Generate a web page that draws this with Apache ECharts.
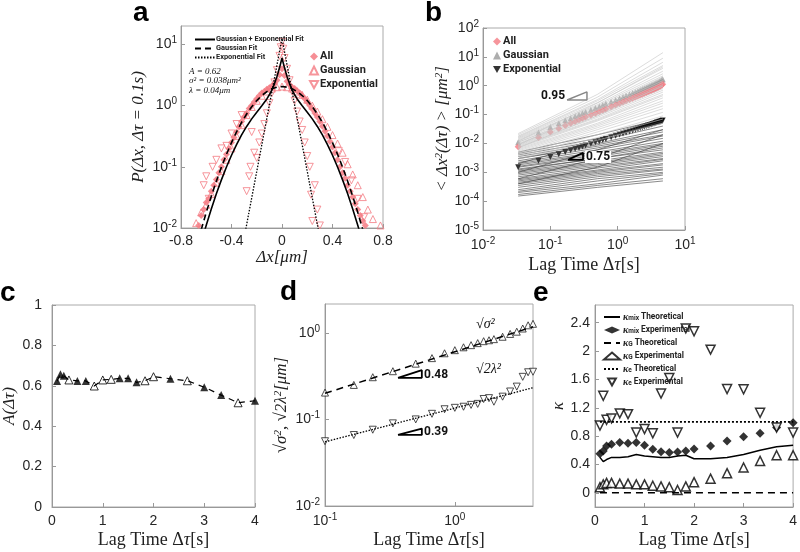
<!DOCTYPE html>
<html><head><meta charset="utf-8">
<script src="https://cdn.jsdelivr.net/npm/echarts@6/dist/echarts.min.js"></script>
<style>html,body{margin:0;padding:0;background:#fff}#c{width:800px;height:552px}</style>
</head><body><div id="c"></div>
<script>
// ---------------- Panel a ----------------
const aGaussFitX = [-0.64,-0.60,-0.56,-0.52,-0.48,-0.44,-0.40,-0.36,-0.32,-0.28,-0.24,-0.20,-0.16,-0.12,-0.08,-0.04,0,0.04,0.08,0.12,0.16,0.20,0.24,0.28,0.32,0.36,0.40,0.44,0.48,0.52,0.56,0.60,0.64];
const aGaussFit = [0.00935,0.0180,0.0330,0.0583,0.0988,0.160,0.249,0.372,0.532,0.730,0.960,1.209,1.462,1.694,1.882,2.004,2.047,2.004,1.882,1.694,1.462,1.209,0.960,0.730,0.532,0.372,0.249,0.160,0.0988,0.0583,0.0330,0.0180,0.00935];
const aMixFitX = [-0.64,-0.60,-0.56,-0.52,-0.48,-0.44,-0.40,-0.36,-0.32,-0.28,-0.24,-0.20,-0.16,-0.12,-0.10,-0.08,-0.06,-0.04,-0.03,-0.02,-0.01,0,0.01,0.02,0.03,0.04,0.06,0.08,0.10,0.12,0.16,0.20,0.24,0.28,0.32,0.36,0.40,0.44,0.48,0.52,0.56,0.60,0.64];
const aMixFit = [0.0058,0.0111,0.0205,0.0362,0.0612,0.0993,0.1546,0.2308,0.3314,0.4566,0.6067,0.7816,0.9934,1.287,1.503,1.810,2.27,2.990,3.50,4.143,4.97,6.019,4.97,4.143,3.50,2.990,2.27,1.810,1.503,1.287,0.9934,0.7816,0.6067,0.4566,0.3314,0.2308,0.1546,0.0993,0.0612,0.0362,0.0205,0.0111,0.0058];
const aExpFitX = [-0.30,-0.28,-0.24,-0.20,-0.16,-0.12,-0.08,-0.06,-0.04,-0.02,-0.01,0,0.01,0.02,0.04,0.06,0.08,0.12,0.16,0.20,0.24,0.28,0.30];
const aExpFit = [0.00691,0.0114,0.0310,0.0842,0.229,0.622,1.692,2.789,4.599,7.58,9.735,12.5,9.735,7.58,4.599,2.789,1.692,0.622,0.229,0.0842,0.0310,0.0114,0.00691];
const aAllX = [-0.66,-0.64,-0.62,-0.60,-0.58,-0.56,-0.54,-0.52,-0.50,-0.48,-0.46,-0.44,-0.42,-0.40,-0.38,-0.36,-0.34,-0.32,-0.30,-0.28,-0.26,-0.24,-0.22,-0.20,-0.18,-0.16,-0.14,-0.12,-0.10,-0.08,-0.06,-0.04,-0.02,0,0.02,0.04,0.06,0.08,0.10,0.12,0.14,0.16,0.18,0.20,0.22,0.24,0.26,0.28,0.30,0.32,0.34,0.36,0.38,0.40,0.42,0.44,0.46,0.48,0.50,0.52,0.54,0.56,0.58,0.60,0.62,0.64,0.66];
const aAll = [0.011,0.016,0.02,0.026,0.03,0.04,0.05,0.062,0.08,0.1,0.13,0.16,0.2,0.25,0.3,0.37,0.45,0.55,0.65,0.75,0.9,1.0,1.15,1.3,1.45,1.6,1.7,1.85,1.95,2.1,2.3,2.6,3.2,4.0,3.1,2.5,2.2,2.0,1.9,1.75,1.6,1.45,1.3,1.15,1.0,0.88,0.76,0.65,0.55,0.46,0.38,0.32,0.26,0.21,0.17,0.13,0.1,0.08,0.065,0.05,0.04,0.032,0.025,0.02,0.016,0.013,0.011];
const aGaussX = [-0.68,-0.64,-0.60,-0.56,-0.52,-0.48,-0.44,-0.40,-0.36,-0.32,-0.28,-0.24,-0.20,-0.16,-0.12,-0.08,-0.04,0,0.04,0.08,0.12,0.16,0.20,0.24,0.28,0.32,0.36,0.40,0.44,0.48,0.52,0.56,0.60,0.64,0.68,0.72,0.78];
const aGauss = [0.012,0.018,0.024,0.036,0.055,0.085,0.13,0.2,0.32,0.48,0.7,0.95,1.2,1.45,1.7,1.9,2.0,2.05,2.0,1.9,1.7,1.5,1.25,1.0,0.8,0.6,0.45,0.33,0.24,0.17,0.11,0.075,0.05,0.032,0.02,0.014,0.011];
const aExpX = [-0.62,-0.60,-0.58,-0.55,-0.52,-0.48,-0.44,-0.40,-0.36,-0.32,-0.28,-0.26,-0.25,-0.24,-0.22,-0.20,-0.18,-0.16,-0.14,-0.12,-0.10,-0.08,-0.06,-0.04,-0.02,-0.01,0,0.01,0.02,0.04,0.06,0.08,0.10,0.12,0.14,0.16,0.18,0.20,0.22,0.23,0.24,0.26,0.28,0.30,0.45,0.50,0.55,0.60,0.65];
const aExp = [0.05,0.07,0.03,0.1,0.13,0.2,0.22,0.35,0.5,0.7,0.04,0.07,0.1,0.37,0.17,0.14,0.25,0.35,0.5,0.75,1.1,1.6,2.4,3.8,6.5,9,11,8.5,6,4,2.6,1.7,1.2,0.8,0.55,0.4,0.25,0.15,0.1,0.035,0.013,0.05,0.02,0.011,0.18,0.12,0.06,0.03,0.015];

// ---------------- Panel b ----------------
const bTau = [0.0333,0.0667,0.1,0.1333,0.1667,0.2,0.2333,0.2667,0.3,0.3333,0.4,0.4667,0.5333,0.6,0.6667,0.8,0.9333,1.0667,1.2,1.3333,1.5,1.6667,1.8333,2.0,2.1667,2.3333,2.5,2.6667,2.8333,3.0,3.1667,3.3333,3.5,3.6667,3.8333,4.0,4.1667,4.3333,4.5,4.6667];
const bAll = [0.0076,0.016,0.025,0.033,0.042,0.05,0.058,0.066,0.074,0.082,0.097,0.112,0.127,0.142,0.157,0.186,0.215,0.244,0.272,0.3,0.335,0.37,0.405,0.44,0.475,0.51,0.545,0.58,0.615,0.65,0.685,0.72,0.76,0.8,0.84,0.88,0.93,0.98,1.05,1.12];
const bGauss = [0.011,0.024,0.037,0.05,0.063,0.075,0.087,0.099,0.111,0.123,0.146,0.168,0.19,0.213,0.235,0.279,0.322,0.366,0.408,0.45,0.5,0.555,0.61,0.66,0.71,0.765,0.82,0.87,0.92,0.975,1.03,1.08,1.14,1.2,1.26,1.32,1.4,1.47,1.57,1.68];
const bExp = [0.0015,0.0025,0.0034,0.0042,0.005,0.0058,0.0065,0.0071,0.0078,0.0084,0.0097,0.0109,0.012,0.0131,0.0142,0.0163,0.0183,0.0202,0.022,0.0239,0.0261,0.0282,0.0303,0.0323,0.0343,0.0363,0.0382,0.0401,0.042,0.0438,0.0456,0.0474,0.0492,0.051,0.0527,0.0544,0.056,0.0577,0.0594,0.062];
const bLineTau = [0.0333,0.5,4.7];
const bGaussLines = [[0.022,0.5,14],[0.02,0.4,9],[0.018,0.33,6.5],[0.017,0.3,5],[0.016,0.26,4],[0.015,0.22,3.2],[0.014,0.2,2.6],[0.013,0.18,2.2],[0.012,0.16,1.8],[0.011,0.14,1.5],[0.011,0.12,1.3],[0.01,0.11,1.1],[0.0095,0.1,0.95],[0.009,0.09,0.8],[0.0085,0.08,0.7],[0.008,0.07,0.6],[0.0075,0.065,0.5],[0.007,0.06,0.45],[0.0065,0.05,0.38],[0.006,0.045,0.3],[0.0055,0.04,0.25],[0.005,0.035,0.2],[0.0045,0.03,0.16],[0.004,0.025,0.12],[0.0035,0.02,0.09],[0.003,0.016,0.07],[0.0028,0.013,0.05],[0.012,0.25,4.5],[0.009,0.15,2.0],[0.007,0.09,1.0]];
const bExpLines = [[0.005,0.02,0.07],[0.0045,0.015,0.05],[0.004,0.012,0.04],[0.0035,0.01,0.03],[0.003,0.009,0.025],[0.003,0.008,0.02],[0.0025,0.007,0.018],[0.0022,0.006,0.015],[0.002,0.005,0.012],[0.0018,0.0045,0.01],[0.0016,0.004,0.009],[0.0015,0.0035,0.008],[0.0013,0.003,0.007],[0.0012,0.003,0.006],[0.0011,0.0025,0.005],[0.001,0.0022,0.0045],[0.0009,0.002,0.004],[0.0008,0.0018,0.0035],[0.0007,0.0016,0.003],[0.0006,0.0014,0.0028],[0.00055,0.0012,0.0025],[0.0005,0.0011,0.002],[0.00045,0.001,0.0018],[0.0004,0.0009,0.0015],[0.00035,0.0008,0.0013],[0.0003,0.0007,0.0012],[0.00025,0.0006,0.001],[0.00022,0.0005,0.0009],[0.0002,0.0004,0.0008],[0.00017,0.00035,0.0006],[0.00015,0.0003,0.0005],[0.002,0.012,0.06],[0.001,0.006,0.03],[0.0006,0.003,0.02],[0.0004,0.0015,0.01]];
const bSlope95 = [[0.177,0.32],[0.35,0.32],[0.35,0.61],[0.177,0.32]];
const bSlope75 = [[0.183,0.00271],[0.306,0.00271],[0.306,0.00473],[0.183,0.00271]];

// ---------------- Panel c, d, e ----------------
const lagTau = [0.1,0.1667,0.2333,0.3333,0.5,0.6667,0.8333,1.0,1.1667,1.3333,1.5,1.6667,1.8333,2.0,2.3333,2.6667,3.0,3.3333,3.6667,4.0];
const cA = [0.624,0.657,0.650,0.629,0.624,0.624,0.599,0.629,0.632,0.637,0.637,0.617,0.625,0.645,0.635,0.625,0.593,0.554,0.516,0.526];
const cFilled = [1,1,1,0,1,1,0,0,0,1,1,1,0,0,1,0,1,1,0,1];
const dSigma = [0.204,0.25,0.307,0.36,0.44,0.51,0.58,0.63,0.68,0.72,0.76,0.8,0.82,0.845,0.9,0.97,1.03,1.12,1.22,1.27];
const dLambda = [0.056,0.066,0.076,0.09,0.1,0.116,0.131,0.136,0.14,0.147,0.151,0.172,0.176,0.16,0.183,0.21,0.239,0.31,0.35,0.355];
const dFitTau = [0.1,4.0];
const dSigmaFit = [0.2,1.175];
const dLambdaFit = [0.055,0.232];
const dSlope48 = [[0.365,0.302],[0.557,0.302],[0.557,0.370],[0.365,0.302]];
const dSlope39 = [[0.365,0.0662],[0.557,0.0662],[0.557,0.0784],[0.365,0.0662]];
const eKmixTheo = [0.5,0.44,0.47,0.5,0.5,0.51,0.54,0.52,0.51,0.5,0.5,0.52,0.53,0.48,0.48,0.5,0.54,0.6,0.65,0.67];
const eKmixExp = [0.55,0.59,0.66,0.685,0.71,0.70,0.71,0.67,0.615,0.58,0.57,0.575,0.59,0.62,0.66,0.73,0.79,0.84,0.92,0.99];
const eKGExp = [0.08,0.12,0.14,0.14,0.13,0.13,0.12,0.12,0.1,0.09,0.08,0.04,0.09,0.15,0.2,0.277,0.357,0.45,0.53,0.53];
const eKeExp = [0.95,1.37,1.03,1.05,1.12,1.11,0.85,0.9,0.84,1.4,1.62,0.85,2.32,2.28,2.02,1.465,1.46,1.13,0.92,0.85];
const eKGTheo = [0,0,0,0,0,0,0,0,0,0,0,0,0,0,0,0,0,0,0,0];
const eKeTheo = [1,1,1,1,1,1,1,1,1,1,1,1,1,1,1,1,1,1,1,1];
const eTicks = [0,0.4,0.8,1.2,1.6,2,2.4];

// ---------------- helpers ----------------
const PINK = '#f47a82';
const SERIF = 'Liberation Serif';
const SANS = 'Liberation Sans';
const BOLD = 'Roboto';
const DOWN = 'path://M0,0 L10,0 L5,9 Z';
const zip = (xs, ys) => xs.map((x, i) => [x, ys[i]]);
const sup = v => '10{s|' + Math.round(Math.log10(v)) + '}';
const baseLbl = {fontSize: 14, color: '#262626', fontFamily: SANS};
const logLbl = (m, showMax) => Object.assign({}, baseLbl, {formatter: sup, margin: m, lineHeight: 18, showMaxLabel: !!showMax,
  rich: {s: {fontSize: 10, lineHeight: 10, verticalAlign: 'top', fontFamily: SANS, color: '#262626'}}});
const linLbl = (m) => Object.assign({}, baseLbl, {margin: m});
const lagName = '{r|Lag Time Δ}{i|τ}{r|[s]}';
const nameStyle = {fontSize: 18, color: '#222', fontFamily: SERIF,
  rich: {r: {fontSize: 18, fontFamily: SERIF, color: '#222'}, i: {fontSize: 18, fontFamily: SERIF, fontStyle: 'italic', color: '#222'}}};
const italicName = {fontSize: 17, color: '#222', fontFamily: SERIF, fontStyle: 'italic',
  rich: {u: {fontSize: 11, lineHeight: 11, verticalAlign: 'top', fontFamily: SERIF, fontStyle: 'italic', color: '#222'}}};
function ax(gi, type, o) {
  return Object.assign({gridIndex: gi, type: type, logBase: 10,
    axisLine: {show: true, onZero: false, lineStyle: {color: '#999'}},
    axisTick: {show: true, inside: true, length: 4, lineStyle: {color: '#999'}},
    splitLine: {show: false}, nameLocation: 'middle'}, o);
}
function linesData(lines) {
  const d = [];
  lines.forEach(l => { l.forEach((v, i) => d.push([bLineTau[i], v])); d.push([bLineTau[bLineTau.length - 1], '-']); });
  return d;
}
const open = c => ({color: 'rgba(255,255,255,0)', borderColor: c, borderWidth: 1});

const grids = [
  {left: 181, top: 26, width: 202, height: 202},
  {left: 483, top: 28, width: 202, height: 202},
  {left: 48, top: 305, width: 207, height: 202},
  {left: 325, top: 304, width: 208, height: 202},
  {left: 595, top: 305, width: 202, height: 202}
].map(g => Object.assign({show: true, borderColor: '#aaa', borderWidth: 1, containLabel: false}, g));

const xAxis = [
  ax(0, 'value', {min: -0.8, max: 0.8, interval: 0.4, axisLabel: linLbl(6), name: 'Δx[μm]', nameGap: 17, nameTextStyle: italicName}),
  ax(1, 'log', {min: 0.01, max: 10, axisLabel: logLbl(6, true), name: lagName, nameGap: 26, nameTextStyle: nameStyle}),
  ax(2, 'value', {min: 0, max: 4, interval: 1, axisLabel: linLbl(7), name: lagName, nameGap: 24, nameTextStyle: nameStyle}),
  ax(3, 'log', {min: 0.1, max: 4, axisLabel: logLbl(6), name: lagName, nameGap: 22, nameTextStyle: nameStyle}),
  ax(4, 'value', {min: 0, max: 4, interval: 1, axisLabel: linLbl(7), name: lagName, nameGap: 24, nameTextStyle: nameStyle})
];
const yAxis = [
  ax(0, 'log', {min: 0.01, max: 20, axisLabel: logLbl(4), name: 'P(Δx, Δτ = 0.1s)', nameGap: 34, nameTextStyle: italicName}),
  ax(1, 'log', {min: 1e-5, max: 100, axisLabel: logLbl(4, true), name: '< Δx{u|2}(Δτ) > [μm{u|2}]', nameGap: 31, nameTextStyle: italicName}),
  ax(2, 'value', {min: 0, max: 1, interval: 0.2, axisLabel: linLbl(10), name: 'A(Δτ)', nameGap: 34, nameTextStyle: italicName}),
  ax(3, 'log', {min: 0.01, max: 2.15, axisLabel: logLbl(5), name: '√σ{u|2}, √2λ{u|2}[μm]', nameGap: 35, nameTextStyle: italicName}),
  ax(4, 'value', {min: -0.2, max: 2.65, axisLabel: Object.assign(linLbl(5), {customValues: eTicks}),
    axisTick: {show: true, inside: true, length: 4, lineStyle: {color: '#999'}, customValues: eTicks},
    name: 'κ', nameGap: 25, nameTextStyle: italicName})
];

const series = [];
// panel a
series.push({name: 'All', type: 'scatter', xAxisIndex: 0, yAxisIndex: 0, data: zip(aAllX, aAll), symbol: 'diamond', symbolSize: 7, itemStyle: {color: PINK, opacity: 0.85}});
series.push({name: 'Gaussian', type: 'scatter', xAxisIndex: 0, yAxisIndex: 0, data: zip(aGaussX, aGauss), symbol: 'triangle', symbolSize: 7, itemStyle: open(PINK)});
series.push({name: 'Exponential', type: 'scatter', xAxisIndex: 0, yAxisIndex: 0, data: zip(aExpX, aExp), symbol: DOWN, symbolSize: 7, itemStyle: open(PINK)});
series.push({name: 'Gaussian + Exponential Fit', type: 'line', xAxisIndex: 0, yAxisIndex: 0, data: zip(aMixFitX, aMixFit), symbol: 'none', itemStyle: {color: '#000'}, lineStyle: {color: '#000', width: 1.6}});
series.push({name: 'Gaussian Fit', type: 'line', xAxisIndex: 0, yAxisIndex: 0, data: zip(aGaussFitX, aGaussFit), symbol: 'none', itemStyle: {color: '#000'}, lineStyle: {color: '#000', width: 1.6, type: [6, 4]}});
series.push({name: 'Exponential Fit', type: 'line', xAxisIndex: 0, yAxisIndex: 0, data: zip(aExpFitX, aExpFit), symbol: 'none', itemStyle: {color: '#000'}, lineStyle: {color: '#000', width: 1.3, type: [1.5, 1.5]}});
// panel b
series.push({name: 'bExpLines', type: 'line', xAxisIndex: 1, yAxisIndex: 1, data: linesData(bExpLines), symbol: 'none', connectNulls: false, lineStyle: {color: '#3a3a3a', width: 0.6}, silent: true});
series.push({name: 'bGaussLines', type: 'line', xAxisIndex: 1, yAxisIndex: 1, data: linesData(bGaussLines), symbol: 'none', connectNulls: false, lineStyle: {color: '#c4c4c4', width: 0.6}, silent: true});
series.push({name: 'Gaussian ', type: 'scatter', xAxisIndex: 1, yAxisIndex: 1, data: zip(bTau, bGauss), symbol: 'triangle', symbolSize: 6, itemStyle: {color: '#999'}});
series.push({name: 'All ', type: 'scatter', xAxisIndex: 1, yAxisIndex: 1, data: zip(bTau, bAll), symbol: 'diamond', symbolSize: 7, itemStyle: {color: PINK}});
series.push({name: 'Exponential ', type: 'scatter', xAxisIndex: 1, yAxisIndex: 1, data: zip(bTau, bExp), symbol: DOWN, symbolSize: 6, itemStyle: {color: '#000'}});
series.push({name: 'slope95', type: 'line', xAxisIndex: 1, yAxisIndex: 1, data: bSlope95, symbol: 'none', lineStyle: {color: '#888', width: 1.5}, silent: true});
series.push({name: 'slope75', type: 'line', xAxisIndex: 1, yAxisIndex: 1, data: bSlope75, symbol: 'none', lineStyle: {color: '#000', width: 1.8}, silent: true});
// panel c
series.push({name: 'cLine', type: 'line', xAxisIndex: 2, yAxisIndex: 2, data: zip(lagTau, cA), symbol: 'none', lineStyle: {color: '#000', width: 1.2, type: [6, 5]}});
series.push({name: 'cFilled', type: 'scatter', xAxisIndex: 2, yAxisIndex: 2, data: zip(lagTau, cA).filter((p, i) => cFilled[i]), symbol: 'triangle', symbolSize: 8, itemStyle: {color: '#000'}});
series.push({name: 'cOpen', type: 'scatter', xAxisIndex: 2, yAxisIndex: 2, data: zip(lagTau, cA).filter((p, i) => !cFilled[i]), symbol: 'triangle', symbolSize: 8, itemStyle: {color: '#fff', borderColor: '#000', borderWidth: 1}});
// panel d
series.push({name: 'dSigFit', type: 'line', xAxisIndex: 3, yAxisIndex: 3, data: zip(dFitTau, dSigmaFit), symbol: 'none', lineStyle: {color: '#000', width: 1.5, type: [7, 5]}});
series.push({name: 'dLamFit', type: 'line', xAxisIndex: 3, yAxisIndex: 3, data: zip(dFitTau, dLambdaFit), symbol: 'none', lineStyle: {color: '#000', width: 1.3, type: [1.5, 1.5]}});
series.push({name: 'dSig', type: 'scatter', xAxisIndex: 3, yAxisIndex: 3, data: zip(lagTau, dSigma), symbol: 'triangle', symbolSize: 7, itemStyle: {color: '#fff', borderColor: '#222', borderWidth: 1}});
series.push({name: 'dLam', type: 'scatter', xAxisIndex: 3, yAxisIndex: 3, data: zip(lagTau, dLambda), symbol: DOWN, symbolSize: 7, itemStyle: {color: '#fff', borderColor: '#222', borderWidth: 1}});
series.push({name: 'slope48', type: 'line', xAxisIndex: 3, yAxisIndex: 3, data: dSlope48, symbol: 'none', lineStyle: {color: '#000', width: 1.8}, silent: true});
series.push({name: 'slope39', type: 'line', xAxisIndex: 3, yAxisIndex: 3, data: dSlope39, symbol: 'none', lineStyle: {color: '#000', width: 1.8}, silent: true});
// panel e
series.push({name: 'KmixT', type: 'line', xAxisIndex: 4, yAxisIndex: 4, data: zip(lagTau, eKmixTheo), symbol: 'none', itemStyle: {color: '#000'}, lineStyle: {color: '#000', width: 1.5}});
series.push({name: 'KmixE', type: 'scatter', xAxisIndex: 4, yAxisIndex: 4, data: zip(lagTau, eKmixExp), symbol: 'diamond', symbolSize: 9, itemStyle: {color: '#000'}});
series.push({name: 'KGT', type: 'line', xAxisIndex: 4, yAxisIndex: 4, data: zip(lagTau, eKGTheo), symbol: 'none', itemStyle: {color: '#000'}, lineStyle: {color: '#000', width: 1.5, type: [7, 5]}});
series.push({name: 'KGE', type: 'scatter', xAxisIndex: 4, yAxisIndex: 4, data: zip(lagTau, eKGExp), symbol: 'triangle', symbolSize: 9, itemStyle: {color: '#fff', borderColor: '#000', borderWidth: 1.5}});
series.push({name: 'KeT', type: 'line', xAxisIndex: 4, yAxisIndex: 4, data: zip(lagTau, eKeTheo), symbol: 'none', itemStyle: {color: '#000'}, lineStyle: {color: '#000', width: 1.8, type: [2, 2]}});
series.push({name: 'KeE', type: 'scatter', xAxisIndex: 4, yAxisIndex: 4, data: zip(lagTau, eKeExp), symbol: DOWN, symbolSize: 9, itemStyle: {color: '#fff', borderColor: '#000', borderWidth: 1.5}});

const eNames = {
  KmixT: '{k|κ}{s|mix} Theoretical', KmixE: '{k|κ}{s|mix} Experimental',
  KGT: '{k|κ}{s|G} Theoretical', KGE: '{k|κ}{s|G} Experimental',
  KeT: '{k|κ}{s|e} Theoretical', KeE: '{k|κ}{s|e} Experimental'
};
const lineItem = n => ({name: n, itemStyle: {opacity: 0}});
const legTxt = (fs) => ({fontSize: fs, fontWeight: 'bold', fontFamily: BOLD, color: '#222'});
const legend = [
  {data: ['Gaussian + Exponential Fit', 'Gaussian Fit', 'Exponential Fit'].map(lineItem), orient: 'vertical', left: 189, top: 31,
   itemWidth: 20, itemHeight: 6, itemGap: 2, textStyle: Object.assign(legTxt(7.4), {padding: [0, 0, 0, -4]}), selectedMode: false},
  {data: ['All', 'Gaussian', 'Exponential'], orient: 'vertical', left: 304, top: 46,
   itemWidth: 8, itemHeight: 8, itemGap: 3, textStyle: Object.assign(legTxt(11), {padding: [0, 0, 0, -3]}), selectedMode: false},
  {data: ['All ', 'Gaussian ', 'Exponential '], orient: 'vertical', left: 488, top: 31,
   itemWidth: 8, itemHeight: 8, itemGap: 3, textStyle: Object.assign(legTxt(11), {padding: [0, 0, 0, -3]}), selectedMode: false},
  {data: [lineItem('KmixT'), 'KmixE', lineItem('KGT'), 'KGE', lineItem('KeT'), 'KeE'], orient: 'vertical', left: 598, top: 307,
   itemWidth: 16, itemHeight: 7, itemGap: 3, selectedMode: false,
   formatter: n => eNames[n],
   textStyle: Object.assign(legTxt(8.3), {padding: [0, 0, 0, -2],
     rich: {k: {fontSize: 10, fontStyle: 'italic', fontFamily: SERIF, color: '#222'},
            s: {fontSize: 6.5, fontFamily: BOLD, fontWeight: 'bold', color: '#222', verticalAlign: 'bottom', lineHeight: 6}}})}
];

const letter = (t, x, y) => ({type: 'text', left: x, top: y, style: {text: t, font: 'bold 28px "Liberation Sans"', fill: '#000'}});
const note = (t, x, y, fs, font, bg) => ({type: 'text', left: x, top: y, z: 100,
  style: {text: t, font: font || ('bold ' + fs + 'px Roboto'), fill: '#111', backgroundColor: bg || null, padding: bg ? [0, 1] : 0}});
const graphic = [
  letter('a', 133, -1), letter('b', 425, -1), letter('c', 0, 279), letter('d', 280, 278), letter('e', 533, 279),
  note('A = 0.62', 189, 67, 9, 'italic 9px "Liberation Serif"'),
  note('σ² = 0.038μm²', 189, 76, 9, 'italic 9px "Liberation Serif"'),
  note('λ = 0.04μm', 189, 86, 9, 'italic 9px "Liberation Serif"'),
  note('0.95', 540, 90, 12, null, '#fff'),
  note('0.75', 585, 151, 12, null, '#fff'),
  note('0.48', 424, 369, 12),
  note('0.39', 424, 426, 12),
  note('√σ²', 476, 317, 13, 'italic 14px "Liberation Serif"'),
  note('√2λ²', 476, 362, 13, 'italic 14px "Liberation Serif"')
];

const chart = echarts.init(document.getElementById('c'));
chart.setOption({animation: false, backgroundColor: '#fff', grid: grids, xAxis: xAxis, yAxis: yAxis, series: series, legend: legend, graphic: graphic});
</script></body></html>
